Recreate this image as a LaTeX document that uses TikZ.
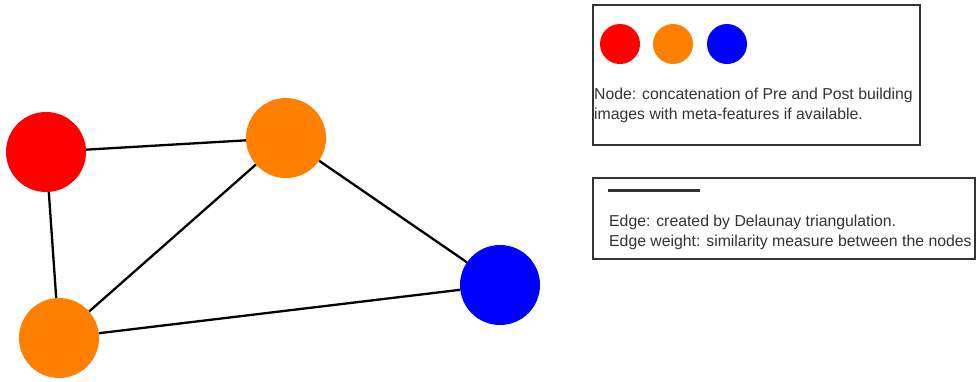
\documentclass[tikz,border=0pt]{standalone}
\usepackage{fontspec}
\setmainfont{Liberation Sans}
\definecolor{nodered}{HTML}{FF0000}
\definecolor{nodeorange}{HTML}{FF8000}
\definecolor{nodeblue}{HTML}{0000FF}
\definecolor{inkgray}{HTML}{333333}
\begin{document}
\begin{tikzpicture}[x=1pt,y=-1pt,
  vertex/.style={circle,minimum size=80pt,inner sep=0pt},
  swatch/.style={circle,minimum size=40pt,inner sep=0pt},
  edge/.style={line width=2.3pt,black},
  legendbox/.style={draw=inkgray,line width=1.2pt},
  legendtext/.style={font=\fontsize{15.8}{20}\selectfont,text=inkgray,align=left,anchor=west,inner sep=0pt}
]
\useasboundingbox (0,0) rectangle (976,381);

% graph
\node[vertex,fill=nodered]    (r)  at (46,152)  {};
\node[vertex,fill=nodeorange] (o1) at (286,138) {};
\node[vertex,fill=nodeorange] (o2) at (59,338)  {};
\node[vertex,fill=nodeblue]   (b)  at (500,285) {};

\draw[edge] (r) -- (o1);
\draw[edge] (r) -- (o2);
\draw[edge] (o1) -- (o2);
\draw[edge] (o1) -- (b);
\draw[edge] (o2) -- (b);

% node legend
\draw[legendbox] (593,5) rectangle (920,145);
\node[swatch,fill=nodered]    (s1) at (620,44) {};
\node[swatch,fill=nodeorange] (s2) at (673,44) {};
\node[swatch,fill=nodeblue]   (s3) at (727,44) {};
\node[legendtext] (nt) at (594,105) {Node: concatenation of Pre and Post building\\images with meta-features if available.};

% edge legend
\draw[legendbox] (593,178) rectangle (975,259);
\coordinate (l1) at (608,190);
\coordinate (l2) at (700,190);
\draw[line width=3pt,inkgray] (l1) -- (l2);
\node[legendtext] (et) at (609,232) {Edge: created by Delaunay triangulation.\\Edge weight: similarity measure between the nodes};
\end{tikzpicture}
\end{document}
